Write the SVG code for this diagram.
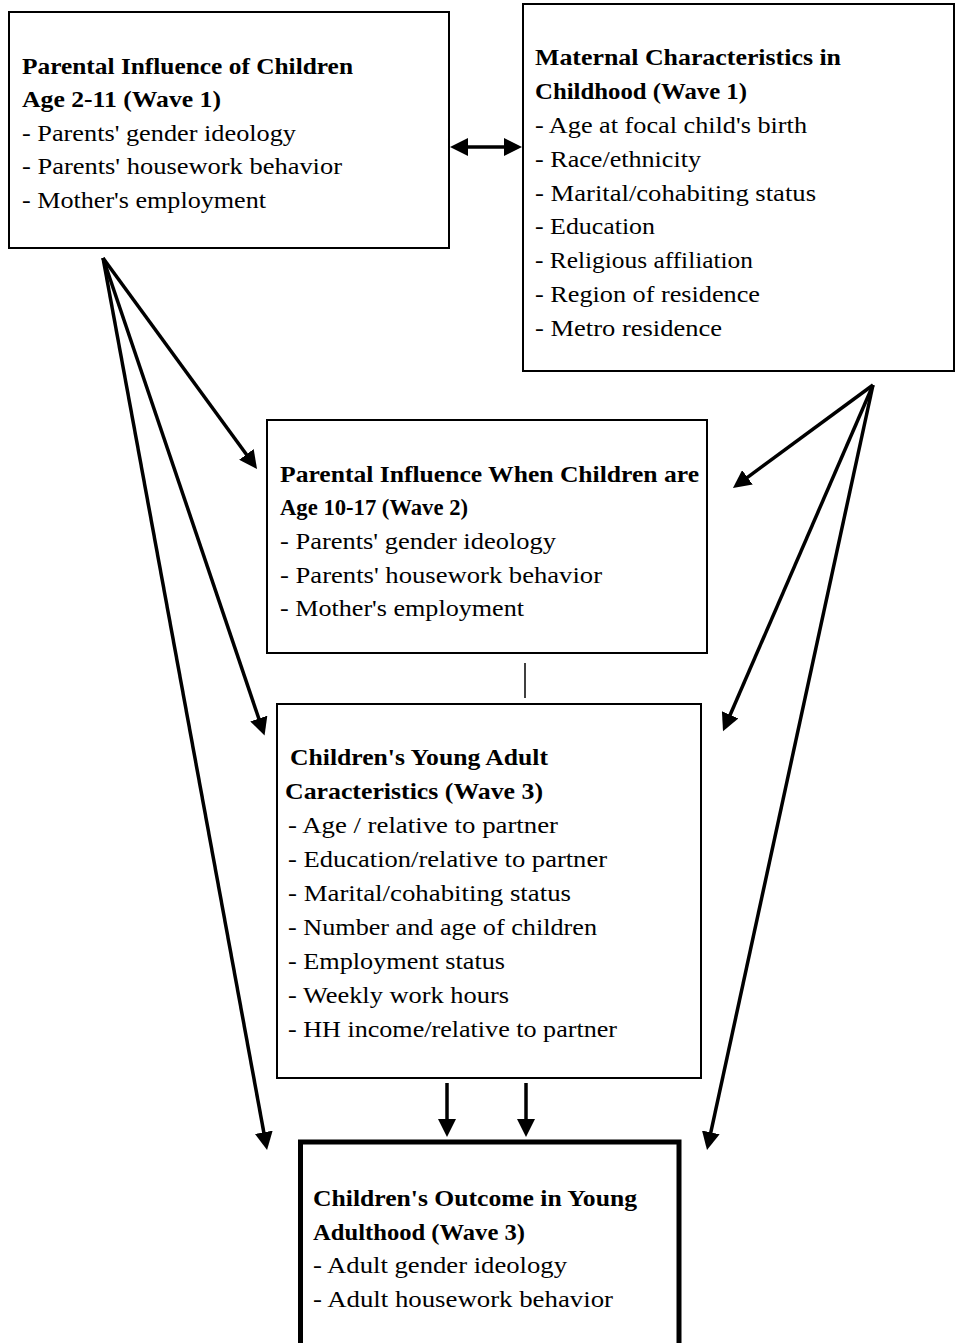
<svg xmlns="http://www.w3.org/2000/svg" width="955" height="1343" viewBox="0 0 955 1343">
<style>
.box{fill:#fff;stroke:#000;stroke-width:2}
.thick{fill:#fff;stroke:#000;stroke-width:5}
text{font-family:'Liberation Serif','Times New Roman',Times,serif;font-size:24px;fill:#000}
.b{font-weight:bold}
.arr{stroke:#000;stroke-width:3.5;fill:none;marker-end:url(#ah)}
</style>
<defs>
<marker id="ah" markerUnits="userSpaceOnUse" markerWidth="18" markerHeight="18" refX="10" refY="9" orient="auto-start-reverse" viewBox="0 0 18 18">
<path d="M0,0 L18,9 L0,18 Z" fill="#000"/>
</marker>
</defs>
<rect width="955" height="1343" fill="#fff"/>
<g id="connectors">
<line class="arr" x1="103" y1="258" x2="252.3" y2="462.5"/>
<line class="arr" x1="103" y1="258" x2="262" y2="728"/>
<line class="arr" x1="103" y1="258" x2="265.6" y2="1142.1"/>
<line class="arr" x1="873" y1="385" x2="739.4" y2="483.3"/>
<line class="arr" x1="873" y1="385" x2="726.2" y2="724"/>
<line class="arr" x1="873" y1="385" x2="708.7" y2="1142.2"/>
<line class="arr" x1="447" y1="1083" x2="447" y2="1129"/>
<line class="arr" x1="526" y1="1083" x2="526" y2="1129"/>
<line class="arr" x1="458" y1="147" x2="514" y2="147" style="marker-start:url(#ah)"/>
<line x1="525" y1="663" x2="525" y2="698" stroke="#000" stroke-width="1.5"/>
</g>
<g id="node-parental-wave1">
<rect class="box" x="9" y="12" width="440" height="236"/>
<text class="b" x="22" y="74" textLength="331" lengthAdjust="spacingAndGlyphs">Parental Influence of Children</text>
<text class="b" x="22" y="107" textLength="199" lengthAdjust="spacingAndGlyphs">Age 2-11 (Wave 1)</text>
<text x="22" y="141" textLength="274" lengthAdjust="spacingAndGlyphs">- Parents' gender ideology</text>
<text x="22" y="174" textLength="320" lengthAdjust="spacingAndGlyphs">- Parents' housework behavior</text>
<text x="22" y="208" textLength="244" lengthAdjust="spacingAndGlyphs">- Mother's employment</text>
</g>
<g id="node-maternal">
<rect class="box" x="523" y="4" width="431" height="367"/>
<text class="b" x="535" y="65" textLength="306" lengthAdjust="spacingAndGlyphs">Maternal Characteristics in</text>
<text class="b" x="535" y="99" textLength="212" lengthAdjust="spacingAndGlyphs">Childhood (Wave 1)</text>
<text x="535" y="133" textLength="272" lengthAdjust="spacingAndGlyphs">- Age at focal child's birth</text>
<text x="535" y="167" textLength="166" lengthAdjust="spacingAndGlyphs">- Race/ethnicity</text>
<text x="535" y="201" textLength="281" lengthAdjust="spacingAndGlyphs">- Marital/cohabiting status</text>
<text x="535" y="234" textLength="120" lengthAdjust="spacingAndGlyphs">- Education</text>
<text x="535" y="268" textLength="218" lengthAdjust="spacingAndGlyphs">- Religious affiliation</text>
<text x="535" y="302" textLength="225" lengthAdjust="spacingAndGlyphs">- Region of residence</text>
<text x="535" y="336" textLength="187" lengthAdjust="spacingAndGlyphs">- Metro residence</text>
</g>
<g id="node-parental-wave2">
<rect class="box" x="267" y="420" width="440" height="233"/>
<text class="b" x="280" y="482" textLength="419" lengthAdjust="spacingAndGlyphs">Parental Influence When Children are</text>
<text class="b" x="280" y="515" textLength="188" lengthAdjust="spacingAndGlyphs">Age 10-17 (Wave 2)</text>
<text x="280" y="549" textLength="276" lengthAdjust="spacingAndGlyphs">- Parents' gender ideology</text>
<text x="280" y="583" textLength="322" lengthAdjust="spacingAndGlyphs">- Parents' housework behavior</text>
<text x="280" y="616" textLength="244" lengthAdjust="spacingAndGlyphs">- Mother's employment</text>
</g>
<g id="node-young-adult">
<rect class="box" x="277" y="704" width="424" height="374"/>
<text class="b" x="290" y="765" textLength="258" lengthAdjust="spacingAndGlyphs">Children's Young Adult</text>
<text class="b" x="285" y="799" textLength="258" lengthAdjust="spacingAndGlyphs">Caracteristics (Wave 3)</text>
<text x="288" y="833" textLength="270" lengthAdjust="spacingAndGlyphs">- Age / relative to partner</text>
<text x="288" y="867" textLength="319" lengthAdjust="spacingAndGlyphs">- Education/relative to partner</text>
<text x="288" y="901" textLength="283" lengthAdjust="spacingAndGlyphs">- Marital/cohabiting status</text>
<text x="288" y="935" textLength="309" lengthAdjust="spacingAndGlyphs">- Number and age of children</text>
<text x="288" y="969" textLength="217" lengthAdjust="spacingAndGlyphs">- Employment status</text>
<text x="288" y="1003" textLength="221" lengthAdjust="spacingAndGlyphs">- Weekly work hours</text>
<text x="288" y="1037" textLength="329" lengthAdjust="spacingAndGlyphs">- HH income/relative to partner</text>
</g>
<g id="node-outcome">
<rect class="thick" x="300.5" y="1142" width="378.5" height="230"/>
<text class="b" x="313" y="1206" textLength="324" lengthAdjust="spacingAndGlyphs">Children's Outcome in Young</text>
<text class="b" x="313" y="1240" textLength="212" lengthAdjust="spacingAndGlyphs">Adulthood (Wave 3)</text>
<text x="313" y="1273" textLength="254" lengthAdjust="spacingAndGlyphs">- Adult gender ideology</text>
<text x="313" y="1307" textLength="300" lengthAdjust="spacingAndGlyphs">- Adult housework behavior</text>
</g>
</svg>
